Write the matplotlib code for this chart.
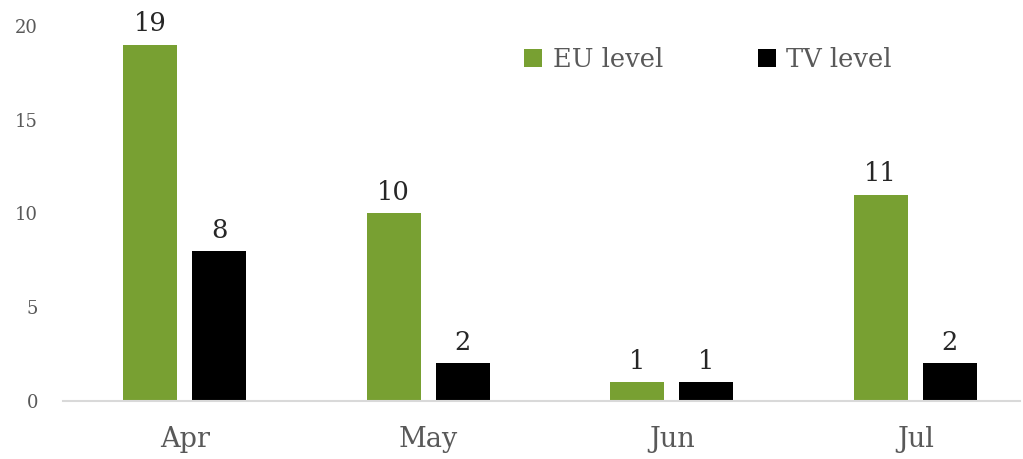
import numpy as np
import matplotlib.pyplot as plt

months = ["Apr", "May", "Jun", "Jul"]
eu_level = [19, 10, 1, 11]
tv_level = [8, 2, 1, 2]
y_ticks = [0, 5, 10, 15, 20]

GREEN = "#78A032"
TEXT = "#595959"

plt.rcParams["font.family"] = ["DejaVu Serif"]

fig = plt.figure(figsize=(10.23, 4.59), dpi=100)
ax = fig.add_axes([0.0616, 0.1264, 0.9354, 0.817])

x = np.arange(len(months))
w = 0.222
off = 0.142
b1 = ax.bar(x - off, eu_level, w, color=GREEN, label="EU level")
b2 = ax.bar(x + off, tv_level, w, color="black", label="TV level")

for bars, vals in ((b1, eu_level), (b2, tv_level)):
    for rect, v in zip(bars, vals):
        ax.text(rect.get_x() + rect.get_width() / 2, v + 0.45, str(v),
                ha="center", va="bottom", fontsize=18.5, color="#262626")

ax.set_xlim(-0.5, 3.43)
ax.set_ylim(0, 20)
ax.set_xticks(x)
ax.set_xticklabels(months, fontsize=19.5, color=TEXT)
ax.set_yticks(y_ticks)
ax.set_yticklabels([str(t) for t in y_ticks], fontsize=13, color=TEXT)
ax.tick_params(length=0)
ax.tick_params(axis="x", pad=18)
ax.tick_params(axis="y", pad=18)

for s in ("top", "right", "left"):
    ax.spines[s].set_visible(False)
ax.spines["bottom"].set_color("#D9D9D9")
ax.spines["bottom"].set_linewidth(1.5)

leg = ax.legend(loc="center", bbox_to_anchor=(0.674, 0.91), ncol=2, frameon=False,
                fontsize=18.5, handlelength=0.7, handleheight=0.7, handletextpad=0.4,
                columnspacing=3.7)
for t in leg.get_texts():
    t.set_color(TEXT)

fig.savefig("out.png", dpi=100)
